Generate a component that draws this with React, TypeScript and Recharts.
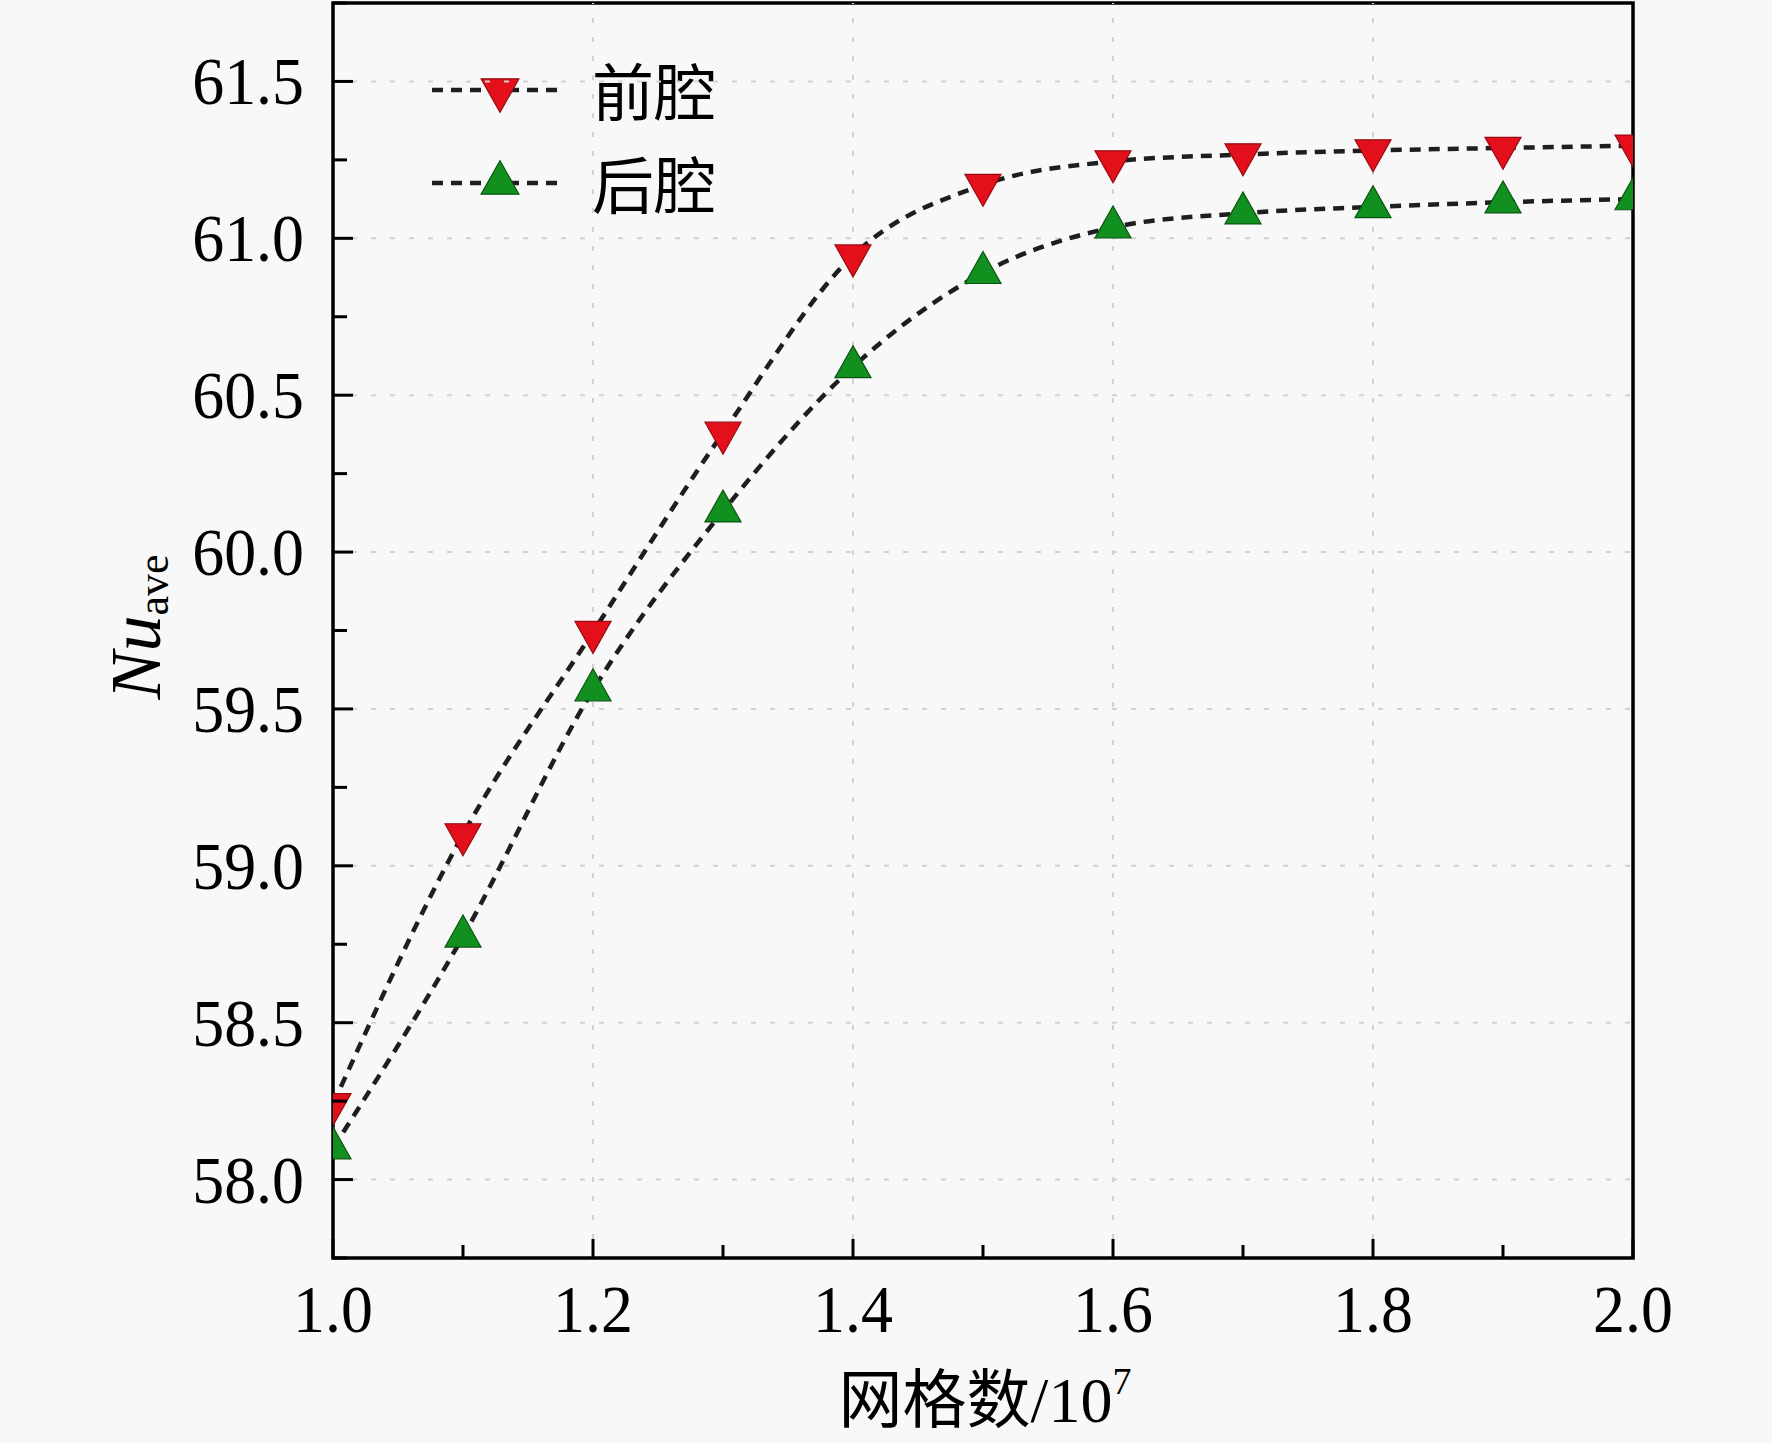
import { LineChart, Line, XAxis, YAxis, ReferenceLine, ReferenceArea } from "recharts"

const FONT = '"Liberation Serif", "Times New Roman", "Noto Sans CJK SC", serif'

// 网格数 (x 10^7)
const meshCounts = [1.0, 1.1, 1.2, 1.3, 1.4, 1.5, 1.6, 1.7, 1.8, 1.9, 2.0]
// Nu_ave values
const frontCavity = [58.24, 59.1, 59.745, 60.38, 60.945, 61.17, 61.245, 61.267, 61.28, 61.288, 61.295]
const rearCavity = [58.1, 58.775, 59.56, 60.13, 60.59, 60.89, 61.035, 61.08, 61.1, 61.115, 61.125]

const xTicks = [1.0, 1.1, 1.2, 1.3, 1.4, 1.5, 1.6, 1.7, 1.8, 1.9, 2.0]
const xMajorTicks = [1.0, 1.2, 1.4, 1.6, 1.8, 2.0]
const xGridTicks = [1.2, 1.4, 1.6, 1.8]
const yTicks = [57.75, 58.0, 58.25, 58.5, 58.75, 59.0, 59.25, 59.5, 59.75, 60.0, 60.25, 60.5, 60.75, 61.0, 61.25, 61.5, 61.75]
const yMajorTicks = [58.0, 58.5, 59.0, 59.5, 60.0, 60.5, 61.0, 61.5]

const series = [
  { key: "front", name: "前腔", fill: "#e3101c", edge: "#9a0a12", down: true },
  { key: "rear", name: "后腔", fill: "#12901f", edge: "#0a5512", down: false },
]

const data = meshCounts.map((m, i) => ({ mesh: m, front: frontCavity[i], rear: rearCavity[i] }))

function Triangle({ cx, cy, down, fill, edge, size = 1 }: any) {
  const w = 18 * size
  const h = 32 * size
  const d = down
    ? `M${cx - w},${cy - h / 3} L${cx + w},${cy - h / 3} L${cx},${cy + (2 * h) / 3} Z`
    : `M${cx - w},${cy + h / 3} L${cx + w},${cy + h / 3} L${cx},${cy - (2 * h) / 3} Z`
  return <path d={d} fill={fill} stroke={edge} strokeWidth={1.2} />
}

// tall serif text like the original figure
function Tall({ x, y, anchor, size, children }: any) {
  return (
    <text
      transform={`translate(${x},${y}) scale(1.03,1.1)`}
      textAnchor={anchor}
      fontSize={size}
      fontFamily={FONT}
      fill="#000"
    >
      {children}
    </text>
  )
}

function XTick({ x, y, payload }: any) {
  const major = xMajorTicks.includes(payload.value)
  return (
    <g>
      <line x1={x} x2={x} y1={y} y2={y - (major ? 19 : 13)} stroke="#000" strokeWidth={3} />
      {major && (
        <Tall x={x} y={y + 74} anchor="middle" size={62}>
          {payload.value.toFixed(1)}
        </Tall>
      )}
    </g>
  )
}

function YTick({ x, y, payload }: any) {
  const major = yMajorTicks.includes(payload.value)
  return (
    <g>
      <line x1={x} x2={x + (major ? 20 : 14)} y1={y} y2={y} stroke="#000" strokeWidth={3} />
      {major && (
        <Tall x={x - 29} y={y + 23} anchor="end" size={62}>
          {payload.value.toFixed(1)}
        </Tall>
      )}
    </g>
  )
}

export default function App() {
  return (
    <div style={{ position: "absolute", left: 0, top: 0, width: 1772, height: 1443, background: "#f8f8f8" }}>
      <LineChart width={1772} height={1443} data={data} margin={{ top: 3, right: 139, bottom: 0, left: 0 }}>
        <XAxis
          dataKey="mesh"
          type="number"
          domain={[1.0, 2.0]}
          ticks={xTicks}
          interval={0}
          allowDataOverflow
          axisLine={false}
          tickLine={false}
          tickSize={0}
          tickMargin={0}
          height={185}
          tick={<XTick />}
        />
        <YAxis
          type="number"
          domain={[57.75, 61.75]}
          ticks={yTicks}
          interval={0}
          allowDataOverflow
          axisLine={false}
          tickLine={false}
          tickSize={0}
          tickMargin={0}
          width={333}
          tick={<YTick />}
        />
        {xGridTicks.map((v) => (
          <ReferenceLine key={"gx" + v} x={v} stroke="#d2d2d2" strokeWidth={2} strokeDasharray="5 14" />
        ))}
        {yMajorTicks.map((v) => (
          <ReferenceLine key={"gy" + v} y={v} stroke="#d2d2d2" strokeWidth={2} strokeDasharray="5 14" />
        ))}
        {series.map((s) => (
          <Line
            key={s.key}
            dataKey={s.key}
            name={s.name}
            type="monotone"
            stroke="#1e1e1e"
            strokeWidth={4.5}
            strokeDasharray="11 8"
            isAnimationActive={false}
            dot={(p: any) => <Triangle key={s.key + p.index} cx={p.cx} cy={p.cy} down={s.down} fill={s.fill} edge={s.edge} />}
            activeDot={false}
          />
        ))}
        <ReferenceArea x1={1.0} x2={2.0} y1={57.75} y2={61.75} fill="none" fillOpacity={0} stroke="#000" strokeWidth={3.5} />
        <g>
          {series.map((s, i) => {
            const rowY = 90 + i * 93
            return (
              <g key={"lg" + s.key}>
                <line x1={432} x2={565} y1={rowY} y2={rowY} stroke="#1e1e1e" strokeWidth={4.5} strokeDasharray="11 8" />
                <Triangle cx={500} cy={rowY} down={s.down} fill={s.fill} edge={s.edge} size={1.05} />
                <text x={592} y={rowY + 26} fontSize={62} fontFamily={FONT} fill="#000">
                  {s.name}
                </text>
              </g>
            )
          })}
        </g>
        <text x={985} y={1422} textAnchor="middle" fontSize={64} fontFamily={FONT} fill="#000">
          网格数/10<tspan fontSize={38} dy={-28}>7</tspan>
        </text>
        <text x={160} y={627} transform="rotate(-90, 160, 627)" textAnchor="middle" fontFamily={FONT} fill="#000">
          <tspan fontSize={72} fontStyle="italic">Nu</tspan>
          <tspan fontSize={44} dy={8}>ave</tspan>
        </text>
      </LineChart>
    </div>
  )
}
